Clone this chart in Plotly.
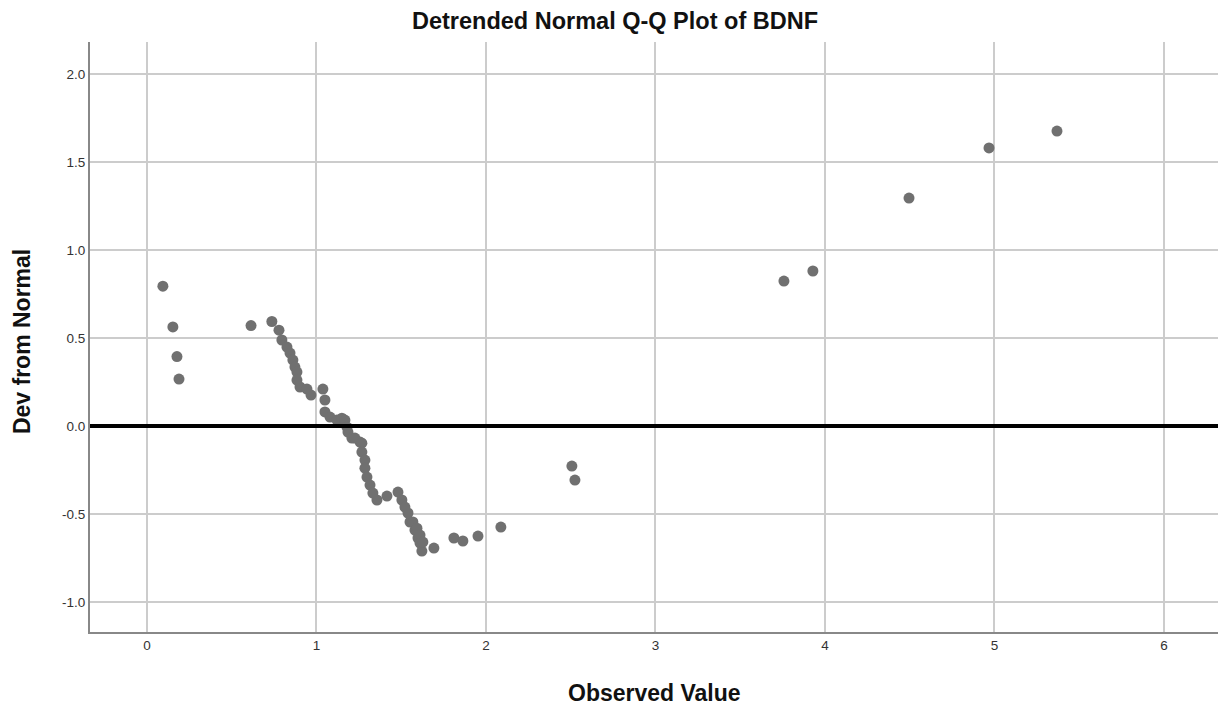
import plotly.graph_objects as go

observed = [0.094, 0.153, 0.177, 0.189, 0.614, 0.737, 0.779, 0.796, 0.826, 0.844,
            0.861, 0.873, 0.885, 0.885, 0.903, 0.944, 0.968, 1.038, 1.050, 1.050,
            1.080, 1.121, 1.150, 1.168, 1.180, 1.186, 1.209, 1.227, 1.257, 1.268,
            1.268, 1.286, 1.286, 1.298, 1.316, 1.333, 1.357, 1.416, 1.481, 1.504,
            1.522, 1.540, 1.552, 1.569, 1.581, 1.593, 1.599, 1.611, 1.611, 1.622,
            1.628, 1.693, 1.811, 1.864, 1.953, 2.088, 2.507, 2.525, 3.758, 3.929,
            4.496, 4.968, 5.369]
dev_from_normal = [0.795, 0.563, 0.395, 0.267, 0.571, 0.594, 0.545, 0.489, 0.449, 0.415,
                   0.375, 0.335, 0.307, 0.261, 0.222, 0.210, 0.176, 0.210, 0.148, 0.080,
                   0.051, 0.034, 0.045, 0.034, -0.006, -0.034, -0.068, -0.068, -0.091, -0.097,
                   -0.148, -0.193, -0.239, -0.290, -0.335, -0.381, -0.420, -0.398, -0.375, -0.420,
                   -0.460, -0.494, -0.545, -0.545, -0.591, -0.580, -0.636, -0.619, -0.665, -0.710,
                   -0.659, -0.693, -0.636, -0.653, -0.625, -0.574, -0.227, -0.307, 0.824, 0.881,
                   1.295, 1.580, 1.676]

x_ticks = [0, 1, 2, 3, 4, 5, 6]
y_ticks = [-1.0, -0.5, 0.0, 0.5, 1.0, 1.5, 2.0]
y_tick_labels = ["-1.0", "-0.5", "0.0", "0.5", "1.0", "1.5", "2.0"]

fig = go.Figure()
fig.add_trace(go.Scatter(
    x=observed, y=dev_from_normal, mode="markers",
    marker=dict(color="#707070", size=11, line=dict(width=0)),
    showlegend=False,
))

fig.add_hline(y=0, line=dict(color="black", width=4), layer="above")

TITLE_FONT = dict(family="Liberation Sans, Arial, sans-serif", size=23, color="#111111")

fig.update_layout(
    width=1232, height=708,
    paper_bgcolor="white", plot_bgcolor="white",
    margin=dict(l=82, r=22, t=34, b=84),
    font=dict(family="Liberation Sans, Arial, sans-serif", color="#222222"),
    title=dict(text="<b>Detrended Normal Q-Q Plot of BDNF</b>", x=0.4927, xanchor="center",
               xref="container", y=0.982, yanchor="middle",
               font=dict(family="Liberation Sans, Arial, sans-serif", size=23.5, color="#111111")),
    xaxis=dict(
        range=[-0.336, 6.319], tickvals=x_ticks, ticktext=[str(v) for v in x_ticks],
        showgrid=True, gridcolor="#cccccc", gridwidth=1.5, zeroline=False,
        showline=True, linecolor="#888888", linewidth=2, ticks="",
        tickfont=dict(size=13.5, color="#333333"),
    ),
    yaxis=dict(
        range=[-1.170, 2.182], tickvals=y_ticks, ticktext=y_tick_labels,
        showgrid=True, gridcolor="#cccccc", gridwidth=1.5, zeroline=False,
        showline=True, linecolor="#888888", linewidth=2, ticks="",
        tickfont=dict(size=13.5, color="#333333"),
    ),
    annotations=[
        dict(text="<b>Observed Value</b>", xref="paper", yref="paper", x=0.5, y=-0.1034,
             xanchor="center", yanchor="middle", showarrow=False, font=TITLE_FONT),
        dict(text="<b>Dev from Normal</b>", xref="paper", yref="paper", x=-0.0603, y=0.493,
             xanchor="center", yanchor="middle", showarrow=False, textangle=-90, font=TITLE_FONT),
    ],
)

fig.write_html("out.html")
